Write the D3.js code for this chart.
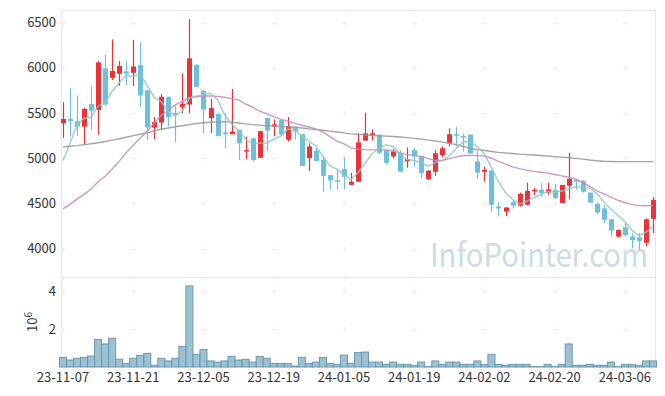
<!DOCTYPE html>
<html>
<head>
<meta charset="utf-8">
<script src="https://cdn.jsdelivr.net/npm/d3@7"></script>
<style>
body { margin: 0; background: #fff; }
svg { display: block; }
text { font-family: "Noto Sans CJK KR", "Noto Sans", sans-serif; }
</style>
</head>
<body>
<svg id="chart" width="665" height="396"></svg>
<script>
// Trading days shown on the chart
var dates = [
    "23-11-07","23-11-08","23-11-09","23-11-10","23-11-13","23-11-14","23-11-15","23-11-16","23-11-17","23-11-20",
    "23-11-21","23-11-22","23-11-23","23-11-24","23-11-27","23-11-28","23-11-29","23-11-30","23-12-01","23-12-04",
    "23-12-05","23-12-06","23-12-07","23-12-08","23-12-11","23-12-12","23-12-13","23-12-14","23-12-15","23-12-18",
    "23-12-19","23-12-20","23-12-21","23-12-22","23-12-26","23-12-27","23-12-28","24-01-02","24-01-03","24-01-04",
    "24-01-05","24-01-08","24-01-09","24-01-10","24-01-11","24-01-12","24-01-15","24-01-16","24-01-17","24-01-18",
    "24-01-19","24-01-22","24-01-23","24-01-24","24-01-25","24-01-26","24-01-29","24-01-30","24-01-31","24-02-01",
    "24-02-02","24-02-05","24-02-06","24-02-07","24-02-08","24-02-13","24-02-14","24-02-15","24-02-16","24-02-19",
    "24-02-20","24-02-21","24-02-22","24-02-23","24-02-26","24-02-27","24-02-28","24-02-29","24-03-04","24-03-05",
    "24-03-06","24-03-07","24-03-08","24-03-11","24-03-12"
];

var openP = [
    5385,5435,5410,5350,5600,5535,5995,5890,5935,5960,
    5945,6030,5750,5340,5395,5680,5500,5565,5595,6030,
    5745,5445,5490,5285,5265,5315,5075,5220,5005,5445,
    5350,5425,5205,5350,5265,5000,5085,4980,4815,4755,
    4880,4705,4740,5195,5265,5260,5090,5020,5060,4965,
    5090,5025,4770,4850,5035,5165,5265,5245,5260,4965,
    4850,4865,4465,4410,4515,4475,4485,4640,4650,4620,
    4650,4505,4695,4760,4750,4620,4495,4445,4325,4135,
    4235,4135,4125,4065,4330
];
var highP = [
    5620,5775,5695,5560,5800,6075,6145,6315,6075,6075,
    6310,6285,5755,5455,5710,5680,5580,5940,6540,6040,
    5755,5655,5500,5500,5765,5315,5240,5220,5300,5450,
    5430,5430,5455,5355,5265,5165,5110,5020,4815,4880,
    5010,4840,5275,5505,5320,5265,5090,5100,5085,5120,
    5110,5025,4870,5090,5130,5330,5350,5275,5265,5090,
    4905,4865,4520,4455,4540,4620,4730,4670,4725,4730,
    4715,4705,5060,4770,4760,4620,4510,4485,4325,4215,
    4280,4170,4170,4335,4570
];
var lowP = [
    5225,5240,5245,5155,5315,5260,5580,5865,5800,5810,
    5800,5570,5200,5210,5315,5350,5175,5500,5500,5785,
    5280,5280,5240,5110,5265,4980,4990,4965,5005,5080,
    5245,5245,5185,5205,4915,4860,4970,4630,4655,4655,
    4655,4705,4740,5195,5195,5045,4930,5000,4850,4895,
    4905,4780,4760,4805,5010,5135,5130,5075,5045,4770,
    4740,4410,4355,4360,4445,4465,4485,4595,4575,4595,
    4545,4505,4545,4655,4620,4500,4380,4280,4135,4120,
    4135,4005,3985,4025,4170
];
var closeP = [
    5435,5410,5350,5545,5525,6060,5595,5965,6020,5935,
    6015,5695,5340,5400,5680,5455,5480,5600,6105,5790,
    5540,5555,5245,5265,5295,5165,5090,4980,5300,5305,
    5375,5260,5355,5295,4915,5130,4970,4805,4755,4740,
    4795,4740,5175,5275,5275,5060,4950,5075,4850,4990,
    5020,4835,4860,5055,5110,5265,5255,5230,5055,4840,
    4870,4485,4445,4455,4475,4605,4640,4650,4615,4655,
    4560,4705,4770,4740,4630,4510,4400,4320,4200,4205,
    4150,4095,4085,4325,4540
];
// Volume, in units of 10^6 shares
var volume = [
    0.51,0.37,0.46,0.51,0.58,1.46,1.22,1.52,0.41,0.19,
    0.46,0.62,0.72,0.09,0.46,0.32,0.46,1.09,4.29,0.67,
    0.93,0.32,0.26,0.32,0.56,0.37,0.41,0.26,0.56,0.46,
    0.19,0.19,0.19,0.05,0.51,0.19,0.26,0.51,0.19,0.14,
    0.63,0.19,0.76,0.79,0.26,0.26,0.14,0.26,0.14,0.14,
    0.09,0.26,0.02,0.32,0.14,0.26,0.26,0.14,0.14,0.32,
    0.14,0.67,0.14,0.09,0.14,0.14,0.14,0.02,0.02,0.14,
    0.02,0.14,1.22,0.09,0.09,0.14,0.09,0.09,0.26,0.02,
    0.14,0.14,0.09,0.32,0.32
];
// Moving averages as drawn (5, 20 and 60 day)
var ma5 = [
    4974,5166,5369,5443,5453,5578,5615,5739,5834,5915,
    5906,5925,5800,5675,5625,5513,5471,5523,5665,5687,
    5705,5719,5648,5480,5380,5305,5213,5160,5167,5169,
    5211,5245,5320,5318,5240,5191,5133,5023,4914,4879,
    4813,4766,4840,4945,5052,5105,5148,5128,5043,4986,
    4977,4953,4911,4951,4976,5025,5109,5183,5183,5129,
    5050,4896,4740,4619,4546,4493,4524,4564,4596,4633,
    4623,4637,4660,4686,4681,4671,4610,4517,4439,4367,
    4299,4203,4141,4182,4240
];
var ma20 = [
    4440,4490,4547,4600,4660,4740,4800,4880,4965,5060,
    5145,5225,5300,5390,5475,5534,5590,5630,5671,5680,
    5689,5688,5684,5675,5660,5645,5600,5565,5520,5490,
    5460,5432,5410,5385,5365,5345,5325,5290,5240,5190,
    5160,5115,5100,5095,5092,5092,5092,5080,5060,5040,
    5030,5020,4995,4975,4975,4995,5015,5030,5030,5030,
    5026,5000,4965,4935,4905,4885,4868,4855,4845,4835,
    4820,4805,4790,4770,4730,4690,4640,4605,4570,4535,
    4510,4490,4476,4475,4478
];
var ma60 = [
    5125,5132,5140,5150,5160,5172,5185,5200,5215,5232,
    5250,5265,5280,5305,5320,5335,5348,5360,5372,5384,
    5392,5398,5402,5405,5400,5390,5380,5372,5366,5360,
    5356,5352,5348,5342,5335,5325,5318,5310,5300,5290,
    5280,5270,5265,5258,5252,5248,5245,5240,5235,5228,
    5220,5212,5200,5190,5178,5165,5150,5130,5110,5095,
    5085,5075,5065,5058,5052,5045,5040,5036,5030,5024,
    5018,5012,5005,4998,4990,4980,4972,4966,4964,4963,
    4963,4962,4962,4962,4962
];

var priceTicks = [4000, 4500, 5000, 5500, 6000, 6500];
var volTicks = [2, 4];
var dateTicks = ["23-11-07","23-11-21","23-12-05","23-12-19","24-01-05","24-01-19","24-02-02","24-02-20","24-03-06"];

// Layout
var plotLeft = 61, plotRight = 656, plotTop = 10, plotMid = 278, plotBottom = 367;
var svg = d3.select("#chart");

var x = d3.scalePoint().domain(dates).range([63, 653]);
var y = d3.scaleLinear().domain([3675, 6640]).range([plotMid, plotTop]);
var yv = d3.scaleLinear().domain([0, 4.71]).range([plotBottom, plotMid]);
var step = x.step();

// Watermark behind everything
svg.append("text")
   .attr("x", 430).attr("y", 267)
   .attr("textLength", 218).attr("lengthAdjust", "spacingAndGlyphs")
   .style("font-size", "33px")
   .style("fill", "#cadce5")
   .text("InfoPointer.com");

// Frame
var frame = svg.append("g").attr("stroke", "#e6e6e6").attr("stroke-width", 1).attr("fill", "none");
frame.append("line").attr("x1", plotLeft).attr("x2", plotRight).attr("y1", plotTop + 0.5).attr("y2", plotTop + 0.5);
frame.append("line").attr("x1", plotLeft).attr("x2", plotRight).attr("y1", plotMid - 0.5).attr("y2", plotMid - 0.5);
frame.append("line").attr("x1", plotLeft + 0.5).attr("x2", plotLeft + 0.5).attr("y1", plotTop).attr("y2", plotBottom + 1);
frame.append("line").attr("x1", plotRight - 0.5).attr("x2", plotRight - 0.5).attr("y1", plotTop).attr("y2", plotBottom);

// Small "+" grid marks at tick crossings
var grid = svg.append("g").attr("stroke", "#eeeeee").attr("stroke-width", 1);
function plus(cx, cy) {
    cx = Math.round(cx) + 0.5; cy = Math.round(cy) + 0.5;
    grid.append("line").attr("x1", cx - 2.5).attr("x2", cx + 2.5).attr("y1", cy).attr("y2", cy);
    grid.append("line").attr("x1", cx).attr("x2", cx).attr("y1", cy - 2.5).attr("y2", cy + 2.5);
}
dateTicks.forEach(function(d) {
    priceTicks.forEach(function(p) { plus(x(d), y(p)); });
    volTicks.forEach(function(v) { plus(x(d), yv(v)); });
    // tiny ticks on the top and panel lines
    var tx = Math.round(x(d)) + 0.5;
    grid.append("line").attr("x1", tx).attr("x2", tx).attr("y1", plotTop).attr("y2", plotTop + 3);
    grid.append("line").attr("x1", tx).attr("x2", tx).attr("y1", plotMid).attr("y2", plotMid + 3);
});

// Y axis labels
svg.append("g").selectAll("text")
   .data(priceTicks).enter().append("text")
     .attr("x", 56).attr("y", function(d) { return y(d); })
     .attr("dy", "0.35em").attr("text-anchor", "end")
     .style("font-size", "13px").style("fill", "#333")
     .text(function(d) { return d; });

svg.append("g").selectAll("text")
   .data(volTicks).enter().append("text")
     .attr("x", 56).attr("y", function(d) { return yv(d); })
     .attr("dy", "0.35em").attr("text-anchor", "end")
     .style("font-size", "13px").style("fill", "#333")
     .text(function(d) { return d; });

// 10^6 unit label
var unit = svg.append("text")
   .attr("transform", "translate(37,332) rotate(-90)")
   .style("font-size", "13px").style("fill", "#333");
unit.append("tspan").text("10");
unit.append("tspan").attr("dy", -5).style("font-size", "10px").text("6");

// X axis labels
svg.append("g").selectAll("text")
   .data(dateTicks).enter().append("text")
     .attr("x", function(d) { return x(d); }).attr("y", 382)
     .attr("text-anchor", "middle")
     .style("font-size", "13px").style("fill", "#333")
     .text(function(d) { return d; });

// Volume bars
svg.append("g").selectAll("rect")
   .data(dates).enter().append("rect")
     .attr("x", function(d) { return x(d) - step / 2; })
     .attr("y", function(d, i) { return yv(volume[i]); })
     .attr("width", step)
     .attr("height", function(d, i) { return plotBottom - yv(volume[i]); })
     .style("fill", "#9cc1d1")
     .style("stroke", "#6898b0")
     .style("stroke-width", 1);

// Candles
var up = "#ec3139", down = "#6cc0db";
var candles = svg.append("g").selectAll("g")
   .data(dates).enter().append("g");

candles.append("line")
     .attr("x1", function(d) { return Math.round(x(d)) + 0.5; })
     .attr("x2", function(d) { return Math.round(x(d)) + 0.5; })
     .attr("y1", function(d, i) { return y(highP[i]); })
     .attr("y2", function(d, i) { return y(lowP[i]); })
     .attr("stroke", function(d, i) { return closeP[i] >= openP[i] ? up : down; })
     .attr("stroke-width", 1.2);

candles.append("rect")
     .attr("x", function(d) { return Math.round(x(d)) - 2; })
     .attr("width", 5)
     .attr("y", function(d, i) { return y(Math.max(openP[i], closeP[i])); })
     .attr("height", function(d, i) { return Math.max(1.5, Math.abs(y(openP[i]) - y(closeP[i]))); })
     .attr("fill", function(d, i) { return closeP[i] >= openP[i] ? up : down; });

// Moving average lines
function maLine(values, color) {
    var line = d3.line()
        .x(function(d) { return x(d); })
        .y(function(d, i) { return y(values[i]); });
    svg.append("path")
       .datum(dates)
       .attr("d", line)
       .attr("fill", "none")
       .attr("stroke", color)
       .attr("stroke-width", 1.4)
       .attr("stroke-opacity", 0.9);
}
maLine(ma60, "#9a9a9a");
maLine(ma20, "#c98cc4");
maLine(ma5, "#8ccbbf");
</script>
</body>
</html>
